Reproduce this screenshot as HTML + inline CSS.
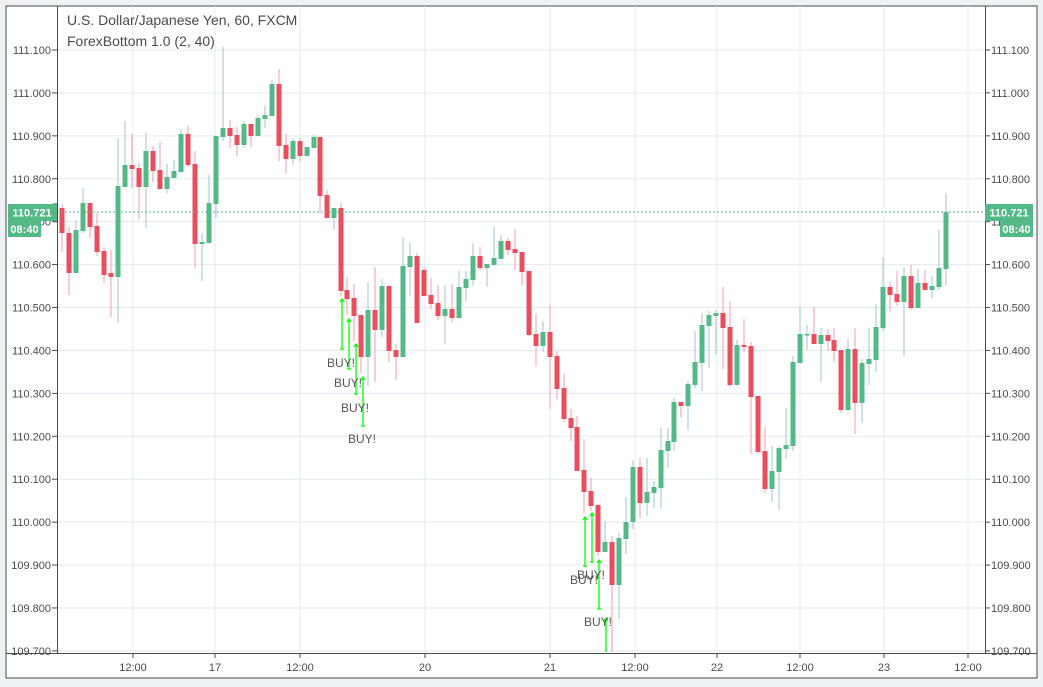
<!DOCTYPE html>
<html><head><meta charset="utf-8"><style>
html,body{margin:0;padding:0;background:#eff2f5;width:1043px;height:687px;overflow:hidden}
svg{display:block}
text{font-family:"Liberation Sans",sans-serif}
</style></head><body>
<svg id="s" width="1043" height="687" xmlns="http://www.w3.org/2000/svg">
<rect x="6" y="6" width="1031" height="672" fill="#fff" stroke="#4a4a4a" stroke-width="1"/>
<g id="grid"></g>
<g id="c"></g>
<g id="buy" stroke="#00ff00" stroke-width="1.3" fill="none"></g>
<line x1="57" y1="212" x2="985" y2="212" stroke="#53b987" stroke-dasharray="2,2"/>
<rect x="0" y="6" width="57" height="672" fill="#fff" opacity="0"/>
<line x1="57.5" y1="6" x2="57.5" y2="653" stroke="#4a4a4a"/>
<line x1="985.5" y1="6" x2="985.5" y2="653" stroke="#4a4a4a"/>
<line x1="6" y1="653.5" x2="1037" y2="653.5" stroke="#4a4a4a"/>
<g id="ax" font-size="11" fill="#4a4a4a"></g>
<text x="67" y="25" font-size="14" fill="#4a4a4a">U.S. Dollar/Japanese Yen, 60, FXCM</text>
<text x="67" y="46" font-size="14" fill="#4a4a4a">ForexBottom 1.0 (2, 40)</text>
<g font-size="12" fill="#555">
<text x="327" y="367">BUY!</text><text x="334" y="387">BUY!</text><text x="341" y="412">BUY!</text><text x="348" y="443">BUY!</text>
<text x="570" y="584">BUY!</text><text x="577" y="579">BUY!</text><text x="584" y="626">BUY!</text>
</g>
<rect x="8" y="204" width="48" height="17" fill="#53b987"/><text x="32" y="216.5" font-size="11" font-weight="bold" fill="#fff" text-anchor="middle">110.721</text>
<rect x="8" y="221" width="33" height="16" fill="#53b987"/><text x="24.5" y="233" font-size="11" font-weight="bold" fill="#fff" text-anchor="middle">08:40</text>
<rect x="985" y="204" width="48" height="17" fill="#53b987"/><text x="1009" y="216.5" font-size="11" font-weight="bold" fill="#fff" text-anchor="middle">110.721</text>
<rect x="1000" y="221" width="33" height="16" fill="#53b987"/><text x="1016.5" y="233" font-size="11" font-weight="bold" fill="#fff" text-anchor="middle">08:40</text>
</svg>
<script>
var NS="http://www.w3.org/2000/svg";
function el(p,t,a){var e=document.createElementNS(NS,t);for(var k in a)e.setAttribute(k,a[k]);document.getElementById(p).appendChild(e);return e;}
// grid + axis
for(var i=0;i<=14;i++){var p=111.1-i*0.1;var y=50+i*42.92;
 if(y>653)break;
 el('grid','line',{x1:57,x2:985,y1:y,y2:y,stroke:'#e3eaf0'});
 var s=p.toFixed(3);
 var t=el('ax','text',{x:51,y:y+4,'text-anchor':'end'});t.textContent=s;
 el('ax','line',{x1:52,x2:57,y1:y,y2:y,stroke:'#4a4a4a'});
 var t2=el('ax','text',{x:991,y:y+4});t2.textContent=s;
 el('ax','line',{x1:985,x2:990,y1:y,y2:y,stroke:'#4a4a4a'});
}
var tx=[[133,'12:00'],[215,'17'],[300,'12:00'],[425,'20'],[550,'21'],[635,'12:00'],[717,'22'],[800,'12:00'],[884,'23'],[968,'12:00']];
tx.forEach(function(a){el('grid','line',{x1:a[0],x2:a[0],y1:6,y2:653,stroke:'#e3eaf0'});
 el('ax','line',{x1:a[0],x2:a[0],y1:653,y2:658,stroke:'#4a4a4a'});
 var t=el('ax','text',{x:a[0],y:671,'text-anchor':'middle'});t.textContent=a[1];});
// candles [x, bodyTop, bodyBot, wickTop, wickBot, g/r]
var D=[[62,208,233,204,252,'r'],[69,233,273,227,295,'r'],[76,230,273,220,273,'g'],[83,203,231,188,233,'g'],[90,203,227,203,238,'r'],[97,226,252,213,256,'r'],[104,251,275,247,283,'r'],[111,273,277,250,317,'r'],[118,186,277,138,323,'g'],[125,165,187,121,187,'g'],[132,165,169,134,188,'r'],[139,168,187,163,219,'r'],[146,151,187,132,228,'g'],[153,151,171,146,182,'r'],[160,170,189,142,189,'r'],[167,177,189,164,193,'g'],[174,171,178,160,178,'g'],[181,134,172,129,172,'g'],[188,134,165,126,167,'r'],[195,164,244,151,268,'r'],[202,242,244,233,281,'g'],[209,203,243,175,243,'g'],[216,136,204,136,218,'g'],[223,128,137,47,141,'g'],[230,128,136,120,148,'r'],[237,135,145,127,156,'r'],[244,124,145,121,148,'g'],[251,124,136,124,147,'r'],[258,118,136,115,136,'g'],[265,115,119,105,128,'g'],[272,84,116,80,116,'g'],[279,84,146,69,161,'r'],[286,145,159,134,173,'r'],[293,141,159,138,165,'g'],[300,141,156,138,162,'r'],[307,147,156,147,156,'g'],[314,137,148,135,148,'g'],[320,137,196,137,212,'r'],[327,195,218,190,218,'r'],[334,208,218,208,230,'g'],[341,208,291,203,296,'r'],
[347,290,299,277,315,'r'],[354,298,316,284,341,'r'],[361,315,357,315,373,'r'],[368,310,357,283,386,'g'],[375,310,330,267,382,'r'],[382,286,330,279,337,'g'],[389,286,351,286,362,'r'],[396,350,357,344,380,'r'],[403,266,357,237,357,'g'],[410,256,267,243,296,'g'],[417,256,323,253,323,'r'],[424,270,296,267,296,'r'],[431,295,304,278,309,'r'],[438,303,316,285,320,'r'],[445,309,316,285,344,'g'],[452,309,318,284,322,'r'],[459,287,318,271,318,'g'],[466,279,288,271,301,'g'],[473,256,280,243,286,'g'],[480,256,268,247,270,'r'],[487,264,268,264,287,'g'],[494,258,265,227,265,'g'],[501,241,259,235,259,'g'],[508,241,250,238,255,'r'],[515,249,253,229,270,'r'],[522,252,272,252,285,'r'],[529,271,335,271,336,'r'],[536,334,346,314,366,'r'],[543,332,346,321,352,'g'],[550,332,357,305,409,'r'],[557,356,389,351,399,'r'],[564,388,419,374,422,'r'],[571,418,428,409,441,'r'],[577,427,471,416,471,'r'],[584,470,492,439,513,'r'],[591,491,506,478,511,'r'],[598,505,552,504,556,'r'],[605,542,552,521,552,'g'],[612,542,585,536,652,'r'],[619,538,585,533,619,'g'],[626,522,539,497,554,'g'],[633,467,522,460,529,'g'],[640,467,503,458,518,'r'],[647,492,503,458,516,'g'],[654,487,493,481,508,'g'],[661,450,488,428,508,'g'],[668,441,451,428,468,'g'],[674,402,442,398,451,'g'],[681,402,406,402,417,'r'],
[688,384,406,381,430,'g'],[695,362,385,331,388,'g'],[702,325,363,313,391,'g'],[709,315,326,311,368,'g'],[716,313,316,310,354,'g'],[723,313,328,287,369,'r'],[730,327,385,302,387,'r'],[737,345,385,340,385,'g'],[744,345,347,319,352,'r'],[751,346,397,342,454,'r'],[758,396,452,396,454,'r'],[765,451,489,427,493,'r'],[772,471,489,446,502,'g'],[779,448,472,446,510,'g'],[786,445,449,408,459,'g'],[793,362,446,356,451,'g'],[800,334,363,307,363,'g'],[807,334,335,325,350,'g'],[814,334,344,307,344,'r'],[821,335,344,328,382,'g'],[828,335,341,329,351,'r'],[834,340,351,328,362,'r'],[841,350,410,350,413,'r'],[848,349,410,339,411,'g'],[855,349,403,328,434,'r'],[862,363,403,359,423,'g'],[869,359,364,328,385,'g'],[876,327,360,304,372,'g'],[883,287,328,257,331,'g'],[890,287,295,282,311,'r'],[897,294,302,271,306,'r'],[904,276,302,267,356,'g'],[911,276,308,265,310,'r'],[918,283,308,269,308,'g'],[925,283,290,270,290,'r'],[932,286,290,276,298,'g'],[939,268,287,230,290,'g'],[946,212,269,193,285,'g']];
el('c','rect',{x:53,y:203,width:4,height:19,fill:'#53b987'});
D.forEach(function(d){var g=d[5]=='g';
 el('c','line',{x1:d[0],x2:d[0],y1:d[3],y2:d[4],stroke:g?'#9fc7c9':'#f29ea8','stroke-width':1});
 el('c','rect',{x:d[0]-2.5,y:d[1],width:5,height:Math.max(1.5,d[2]-d[1]),fill:g?'#53b987':'#eb4d5c'});});
// buy arrows [x,top,bottom]
[[342,299,349],[349,319,369],[356,344,394],[363,377,426],[585,517,566],[592,513,562],[599,560,609],[606,618,660]].forEach(function(a){
 el('buy','line',{x1:a[0],x2:a[0],y1:a[1],y2:Math.min(a[2],652)});
 el('buy','polyline',{points:(a[0]-2)+','+(a[1]+3)+' '+a[0]+','+a[1]+' '+(a[0]+2)+','+(a[1]+3)});
 if(a[2]<652)el('buy','line',{x1:a[0]-2,x2:a[0]+2,y1:a[2],y2:a[2]});});
</script>
</body></html>
